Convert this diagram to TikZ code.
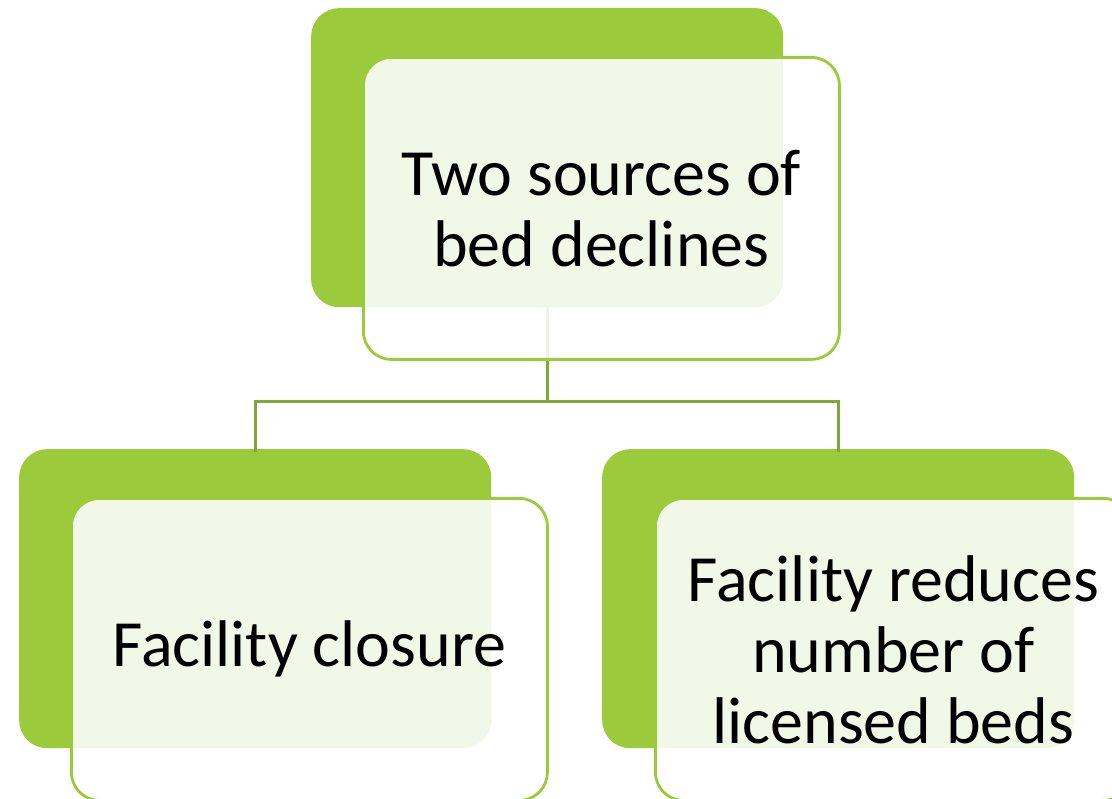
\documentclass[tikz,border=0pt]{standalone}
\usepackage{fontspec}
\setmainfont{Carlito}
\definecolor{lgreen}{HTML}{9BCB3B}
\definecolor{cgreen}{HTML}{7EA83A}
\begin{document}
\begin{tikzpicture}[x=1pt,y=-1pt,
  back/.style={fill=lgreen,rounded corners=28pt,minimum width=472pt,minimum height=299pt,inner sep=0pt,anchor=north west},
  front/.style={draw=lgreen,line width=2.8pt,fill=white,fill opacity=0.88,text opacity=1,rounded corners=28pt,minimum width=476pt,minimum height=302pt,inner sep=0pt,anchor=north west,align=center,font=\fontsize{66}{71}\selectfont},
  conn/.style={draw=cgreen,line width=3.2pt}]
\fill[white] (0,0) rectangle (1112,799);
\clip (0,0) rectangle (1112,799);
\node[back] (g0) at (311,8) {};
\node[back] (g1) at (19,449) {};
\node[back] (g2) at (602,449) {};
\draw[conn] (g0.south) -- ++(0,94) coordinate (bus) -| ([yshift=-3pt]g1.north);
\draw[conn] (bus) -| ([yshift=-3pt]g2.north);
\node[front] (f0) at (362,56) {Two sources of\\bed declines};
\node[front] (f1) at (70,497) {Facility closure};
\node[front] (f2) at (654,497) {Facility reduces\\number of\\licensed beds};
\end{tikzpicture}
\end{document}
